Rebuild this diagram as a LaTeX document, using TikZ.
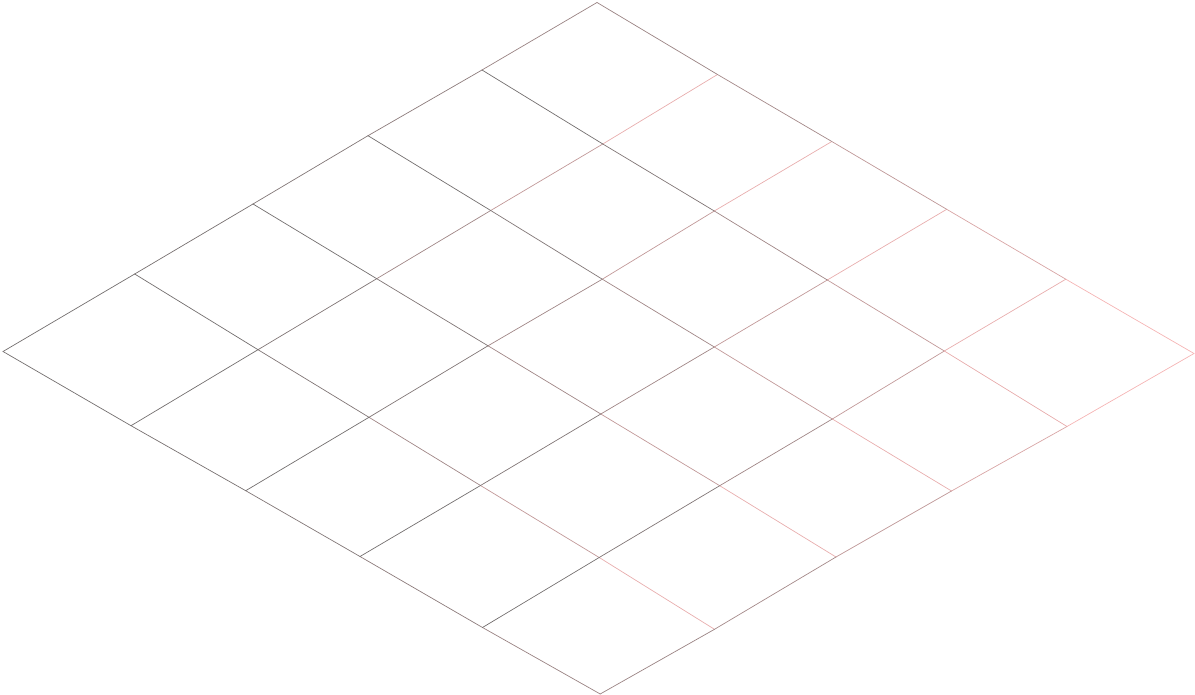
\documentclass[tikz,border=0pt]{standalone}
\usepackage{xcolor}
\usepackage{tikz}

\definecolor{gry}{RGB}{115,110,110}
\definecolor{pnk}{RGB}{245,180,180}

\begin{document}
\begin{tikzpicture}[x=1pt, y=-1pt, line width=0.7pt, line cap=round]
  \useasboundingbox (0,0) rectangle (1195,695);
  % grid points, one row per v
  \foreach \row [count=\v from 0] in {
    {3/351.5,134.7/274,253/204,368/135.7,482/70,597/2.5},
    {131/425.7,258/349.7,376.7/278.7,490.7/210.5,602.8/144,717.5/74.5},
    {245.7/490.7,369/417.3,488/345.8,602.3/279.2,714.3/211,831.8/141.5},
    {360/556.5,480.5/485.5,600.8/414,714.3/347,827.3/280,946.7/209.3},
    {482.5/627.5,599.2/557.5,719.7/485.7,832.3/419,944.3/351,1065.8/279.2},
    {600.2/694,714.5/629.3,836/557,951.5/491,1067/426.5,1194/353.5}}
    \foreach \x/\y [count=\u from 0] in \row
      \coordinate (p\u-\v) at (\x,\y);
  % lines, grey at the start, pink towards the end
  \foreach \i/\f/\g in {0/0.33/0,1/1/0,2/1/0,3/1/0,4/1/0,5/0.8/30}
    \foreach \k/\b in {0/0,1/10,2/35,3/60,4/90}{
      \pgfmathtruncatemacro\n{\k+1}
      \pgfmathtruncatemacro\pc{min(100,\b*\f+\g)}
      \draw[pnk!\pc!gry] (p\k-\i) -- (p\n-\i);
      \draw[pnk!\pc!gry] (p\i-\k) -- (p\i-\n);
    }
\end{tikzpicture}
\end{document}
